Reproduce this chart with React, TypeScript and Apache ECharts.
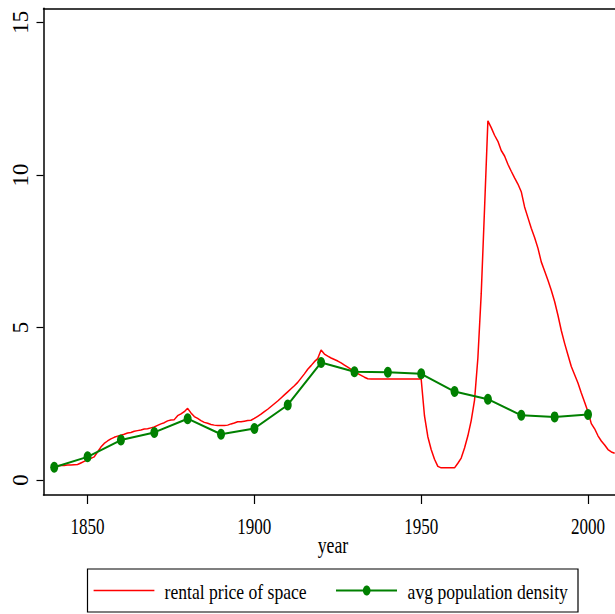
import React, { useEffect, useRef } from "react";
import * as echarts from "echarts";

// ---- data ----
const rentStartYear = 1840;
const rentValues = [
  0.45, 0.47, 0.48, 0.48, 0.49, 0.49, 0.5, 0.51, 0.56, 0.61,
  0.66, 0.71, 0.76, 0.92, 1.08, 1.2, 1.28, 1.35, 1.4, 1.44,
  1.47, 1.5, 1.54, 1.56, 1.6, 1.62, 1.64, 1.67, 1.68, 1.71,
  1.74, 1.79, 1.84, 1.88, 1.94, 1.97, 1.98, 2.11, 2.17, 2.24,
  2.35, 2.2, 2.08, 2.02, 1.95, 1.89, 1.86, 1.82, 1.8, 1.79,
  1.79, 1.79, 1.8, 1.84, 1.87, 1.91, 1.91, 1.93, 1.95, 1.96,
  2.02, 2.09, 2.16, 2.24, 2.32, 2.41, 2.5, 2.59, 2.69, 2.79,
  2.89, 2.99, 3.09, 3.2, 3.34, 3.48, 3.63, 3.75, 3.88, 3.98,
  4.26, 4.13, 4.06, 4.0, 3.95, 3.9, 3.84, 3.77, 3.7, 3.63,
  3.55, 3.49, 3.43, 3.37, 3.32, 3.31, 3.31, 3.31, 3.31, 3.31,
  3.31, 3.31, 3.31, 3.31, 3.31, 3.31, 3.31, 3.31, 3.31, 3.31,
  3.31, 2.1, 1.42, 1.0, 0.68, 0.45, 0.4, 0.4, 0.4, 0.4,
  0.4, 0.55, 0.72, 1.05, 1.45, 1.95, 2.62, 4.0, 6.1, 8.9,
  11.77, 11.55, 11.3, 11.1, 10.8, 10.62, 10.35, 10.12, 9.9, 9.7,
  9.45, 8.95, 8.6, 8.25, 7.95, 7.6, 7.15, 6.85, 6.55, 6.22,
  5.85, 5.4, 4.9, 4.48, 4.1, 3.72, 3.45, 3.18, 2.85, 2.55,
  2.24, 1.85, 1.68, 1.45, 1.28, 1.15, 1.0, 0.92, 0.88,
];
const densityYears = [
  1840, 1850, 1860, 1870, 1880, 1890, 1900, 1910, 1920, 1930, 1940, 1950,
  1960, 1970, 1980, 1990, 2000,
];
const densityValues = [
  0.42, 0.76, 1.31, 1.56, 2.01, 1.5, 1.69, 2.46, 3.85, 3.55, 3.53, 3.48,
  2.9, 2.65, 2.12, 2.07, 2.15,
];
const xTickLabels = [1850, 1900, 1950, 2000];
const yTickLabels = [0, 5, 10, 15];
const seriesNames = ["rental price of space", "avg population density"];
const xTitle = "year";

const RED = "#ff0000";
const GREEN = "#008000";
const FONT = '"Liberation Serif", "Times New Roman", serif';

export default function App() {
  const ref = useRef<HTMLDivElement>(null);

  useEffect(() => {
    if (!ref.current) return;
    const chart = echarts.init(ref.current, undefined, { renderer: "svg" });

    const rentData = rentValues.map((v, i) => [rentStartYear + i, v]);
    const densityData = densityYears.map((y, i) => [y, densityValues[i]]);

    const xMin = 1836.8;
    const xMax = 2008.1;

    chart.setOption({
      animation: false,
      backgroundColor: "#ffffff",
      grid: { left: 43.5, right: 0, top: 8.3, bottom: 119, containLabel: false },
      xAxis: [
        {
          type: "value",
          min: xMin,
          max: xMax,
          axisLine: { show: true, onZero: false, lineStyle: { color: "#000", width: 1.5 } },
          axisTick: {
            show: true,
            length: 9,
            customValues: xTickLabels,
            lineStyle: { color: "#000", width: 1.2 },
          },
          axisLabel: { show: false },
          splitLine: { show: false },
        },
        {
          type: "value",
          position: "top",
          min: xMin,
          max: xMax,
          axisLine: { show: true, onZero: false, lineStyle: { color: "#000", width: 1.5 } },
          axisTick: { show: false },
          axisLabel: { show: false },
          splitLine: { show: false },
        },
      ],
      yAxis: {
        type: "value",
        min: -0.49,
        max: 15.46,
        axisLine: { show: true, onZero: false, lineStyle: { color: "#000", width: 1.5 } },
        axisTick: {
          show: true,
          length: 7,
          customValues: yTickLabels,
          lineStyle: { color: "#000", width: 1.2 },
        },
        axisLabel: {
          show: true,
          customValues: yTickLabels,
          rotate: 90,
          margin: 12,
          color: "#000",
          fontSize: 23,
          fontFamily: FONT,
        },
        splitLine: { show: false },
      },
      series: [
        {
          name: seriesNames[0],
          type: "line",
          data: rentData,
          showSymbol: false,
          symbol: "none",
          lineStyle: { color: RED, width: 1.5 },
          itemStyle: { color: RED },
          z: 2,
        },
        {
          name: seriesNames[1],
          type: "line",
          data: densityData,
          symbol: "circle",
          symbolSize: [8, 11],
          lineStyle: { color: GREEN, width: 2 },
          itemStyle: { color: GREEN },
          z: 3,
        },
      ],
    });

    const tickTexts = xTickLabels.map((v) => ({
      type: "text",
      x: chart.convertToPixel({ xAxisIndex: 0 }, v) as number,
      y: 526,
      scaleX: 0.71,
      style: {
        text: String(v),
        font: `24px ${FONT}`,
        fill: "#000",
        textAlign: "center",
        textVerticalAlign: "middle",
        align: "center",
        verticalAlign: "middle",
      },
    }));

    chart.setOption({
      graphic: [
        ...tickTexts,
        {
          type: "text",
          x: 333,
          y: 545,
          scaleX: 0.74,
          style: {
            text: xTitle,
            font: `24px ${FONT}`,
            fill: "#000",
            textAlign: "center",
            textVerticalAlign: "middle",
            align: "center",
            verticalAlign: "middle",
          },
        },
        {
          type: "rect",
          shape: { x: 87.5, y: 569, width: 490.5, height: 43 },
          style: { fill: "#fff", stroke: "#000", lineWidth: 1.2 },
        },
        {
          type: "line",
          shape: { x1: 93.6, y1: 590.5, x2: 154.4, y2: 590.5 },
          style: { stroke: RED, lineWidth: 1.5 },
        },
        {
          type: "text",
          x: 164.6,
          y: 591,
          scaleX: 0.8,
          style: {
            text: seriesNames[0],
            font: `22px ${FONT}`,
            fill: "#000",
            textAlign: "left",
            textVerticalAlign: "middle",
            align: "left",
            verticalAlign: "middle",
          },
        },
        {
          type: "line",
          shape: { x1: 336, y1: 590.5, x2: 397, y2: 590.5 },
          style: { stroke: GREEN, lineWidth: 2 },
        },
        {
          type: "ellipse",
          shape: { cx: 366.7, cy: 590.5, rx: 3.8, ry: 5 },
          style: { fill: GREEN },
        },
        {
          type: "text",
          x: 407.6,
          y: 591,
          scaleX: 0.8,
          style: {
            text: seriesNames[1],
            font: `22px ${FONT}`,
            fill: "#000",
            textAlign: "left",
            textVerticalAlign: "middle",
            align: "left",
            verticalAlign: "middle",
          },
        },
      ],
    });

    return () => {
      chart.dispose();
    };
  }, []);

  return (
    <div
      ref={ref}
      style={{ position: "fixed", left: 0, top: 0, width: 615, height: 614 }}
    />
  );
}
